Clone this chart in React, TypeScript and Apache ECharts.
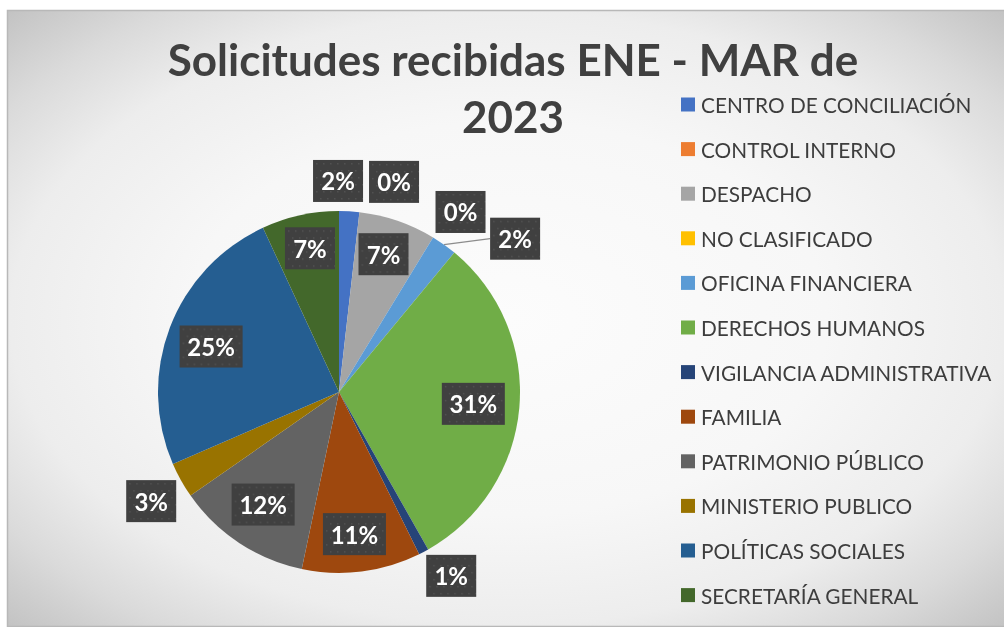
import React, { useEffect, useRef } from 'react';
import * as echarts from 'echarts';

const titleText = 'Solicitudes recibidas ENE - MAR de\n2023';
const categories = [
  'CENTRO DE CONCILIACIÓN',
  'CONTROL INTERNO',
  'DESPACHO',
  'NO CLASIFICADO',
  'OFICINA FINANCIERA',
  'DERECHOS HUMANOS',
  'VIGILANCIA ADMINISTRATIVA',
  'FAMILIA',
  'PATRIMONIO PÚBLICO',
  'MINISTERIO PUBLICO',
  'POLÍTICAS SOCIALES',
  'SECRETARÍA GENERAL',
];
const requests = [18, 0, 69, 0, 23, 308, 9, 106, 120, 32, 246, 69];
const colors = [
  '#4472C4', '#ED7D31', '#A5A5A5', '#FFC000', '#5B9BD5', '#70AD47',
  '#264478', '#9E480E', '#636363', '#997300', '#255E91', '#43682B',
];

// label placement (layout only): outside?, radial factor, angular shift (deg), leader line
const labelPlacement = [
  { out: true, k: 1.166, shift: -3.5, line: false },
  { out: true, k: 1.2, shift: 8.2, line: false },
  { out: false, k: 0.8, shift: -1, line: false },
  { out: true, k: 1.2, shift: 2.7, line: false },
  { out: true, k: 1.29, shift: 13.5, line: true },
  { out: false, k: 0.745, shift: 0, line: false },
  { out: true, k: 1.19, shift: -3.5, line: false },
  { out: false, k: 0.79, shift: 1, line: false },
  { out: false, k: 0.75, shift: 0.5, line: false },
  { out: true, k: 1.2, shift: -1, line: false },
  { out: false, k: 0.75, shift: -1.3, line: false },
  { out: false, k: 0.81, shift: 1, line: false },
];

const CX = 339;
const CY = 392;
const R = 181;

function makeBoxImage(w: number, h: number): string {
  const c = document.createElement('canvas');
  c.width = w;
  c.height = h;
  const ctx = c.getContext('2d');
  if (!ctx) return '';
  ctx.fillStyle = '#404040';
  ctx.fillRect(0, 0, w, h);
  ctx.fillStyle = '#535353';
  let row = 0;
  for (let y = 3; y < h; y += 7) {
    for (let x = 3 + (row % 2) * 3.5; x < w; x += 7) {
      ctx.fillRect(Math.round(x), y, 1.5, 1.5);
    }
    row++;
  }
  return c.toDataURL();
}

export default function App() {
  const ref = useRef<HTMLDivElement>(null);
  useEffect(() => {
    if (!ref.current) return;
    const chart = echarts.init(ref.current, undefined, { renderer: 'svg' });
    const total = requests.reduce((a, b) => a + b, 0);
    const pct = requests.map((v) => Math.round((v / total) * 100));
    const starts: number[] = [];
    let acc = 0;
    requests.forEach((v) => {
      starts.push(acc);
      acc += v;
    });
    const midAngle = (i: number) => ((starts[i] + requests[i] / 2) / total) * 360;

    const img2 = makeBoxImage(50, 42);
    const img3 = makeBoxImage(63, 42);

    const data = categories.map((name, i) => {
      const p = labelPlacement[i];
      const three = String(pct[i]).length > 1;
      return {
        name,
        value: requests[i],
        itemStyle: { color: colors[i] },
        label: {
          position: p.out ? 'outside' : 'inside',
          width: three ? 45 : 32,
          backgroundColor: { image: three ? img3 : img2 },
        },
        labelLine: { show: p.line },
      };
    });

    chart.setOption({
      animation: false,
      graphic: [
        {
          type: 'rect',
          z: -10,
          silent: true,
          shape: { x: 7.5, y: 10.5, width: 1000, height: 616 },
          style: {
            fill: new echarts.graphic.RadialGradient(0.5, 0.5, 0.71, [
              { offset: 0, color: '#fcfcfc' },
              { offset: 0.45, color: '#f7f7f7' },
              { offset: 0.7, color: '#ededed' },
              { offset: 0.85, color: '#dadada' },
              { offset: 1, color: '#c2c2c2' },
            ]),
            stroke: '#b8b8b8',
            lineWidth: 1.5,
          },
        },
      ],
      title: {
        text: titleText,
        left: 513,
        top: 30,
        textAlign: 'center',
        padding: 0,
        textStyle: {
          fontFamily: 'Lato',
          fontWeight: 'bold',
          fontSize: 44,
          lineHeight: 57,
          color: '#404040',
        },
      },
      legend: {
        orient: 'vertical',
        left: 681,
        top: 94,
        padding: 0,
        itemWidth: 14,
        itemHeight: 14,
        itemGap: 23.6,
        icon: 'rect',
        selectedMode: false,
        data: categories,
        textStyle: {
          fontFamily: 'Lato',
          fontSize: 20.8,
          lineHeight: 20,
          color: '#3d3d3d',
          padding: [0, 0, 0, 1],
        },
      },
      series: [
        {
          type: 'pie',
          center: [CX, CY],
          radius: R,
          startAngle: 90,
          clockwise: true,
          avoidLabelOverlap: false,
          data,
          label: {
            show: true,
            formatter: (p: any) => pct[p.dataIndex] + '%',
            fontFamily: 'Lato',
            fontWeight: 'bold',
            fontSize: 24,
            lineHeight: 24,
            color: '#ffffff',
            padding: [9, 9],
            align: 'center',
            overflow: 'none',
            shadowBlur: 7,
            shadowColor: 'rgba(0,0,0,0.5)',
            shadowOffsetX: 2,
            shadowOffsetY: 3,
          },
          labelLine: {
            lineStyle: { color: '#8c8c8c', width: 1.2 },
          },
          labelLayout: (params: any) => {
            const i = params.dataIndex;
            const p = labelPlacement[i];
            const a = ((midAngle(i) + p.shift) * Math.PI) / 180;
            const d = p.k * R;
            const x = CX + d * Math.sin(a);
            const y = CY - d * Math.cos(a);
            const res: any = { x, y, align: 'center', verticalAlign: 'middle' };
            if (p.line) {
              const am = (midAngle(i) * Math.PI) / 180;
              const ex = CX + R * Math.sin(am);
              const ey = CY - R * Math.cos(am);
              const half = String(pct[i]).length > 1 ? 31.5 : 25;
              res.labelLinePoints = [
                [ex, ey],
                [(ex + x - half) / 2, (ey + y) / 2],
                [x - half, y],
              ];
            }
            return res;
          },
        },
      ],
    });
    return () => chart.dispose();
  }, []);
  return (
    <div
      ref={ref}
      style={{ position: 'fixed', left: 0, top: 0, width: 1004, height: 627 }}
    />
  );
}
